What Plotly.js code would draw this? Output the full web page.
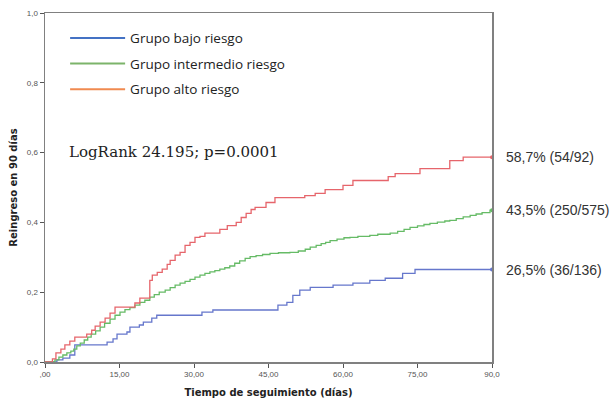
<!DOCTYPE html>
<html>
<head>
<meta charset="utf-8">
<script src="https://cdn.plot.ly/plotly-3.0.1.min.js"></script>
<style>html,body{margin:0;padding:0;background:#fff;}#chart{width:613px;height:400px;}</style>
</head>
<body>
<div id="chart"></div>
<script>
// Grupo bajo riesgo
const bajoDias = [0, 2.4, 3.6, 5.0, 6.0, 12.5, 13.7, 14.5, 16.5, 17.1, 19.0, 19.8, 21.5, 22.5, 31.6, 33.8, 46.9, 48.7, 49.9, 51.3, 53.4, 58.0, 62.0, 65.4, 68.5, 72.0, 74.5, 90];
const bajoValores = [0, 0.006, 0.011, 0.020, 0.049, 0.057, 0.066, 0.080, 0.086, 0.100, 0.106, 0.114, 0.126, 0.134, 0.143, 0.149, 0.163, 0.171, 0.191, 0.206, 0.214, 0.220, 0.226, 0.234, 0.240, 0.254, 0.265, 0.265];
// Grupo intermedio riesgo
const interDias = [0, 2.0, 2.8, 3.6, 4.4, 5.2, 5.8, 6.4, 7.1, 7.9, 8.6, 9.3, 10.2, 11.1, 12.0, 13.1, 14.1, 15.1, 16.1, 17.1, 18.1, 19.1, 20.1, 21.1, 22.0, 23.0, 24.2, 25.2, 26.2, 27.2, 28.2, 29.2, 30.2, 31.2, 32.2, 33.2, 34.2, 35.2, 36.2, 37.2, 38.2, 39.2, 40.3, 41.3, 42.5, 43.8, 45.3, 47.0, 49.3, 51.0, 52.4, 53.4, 54.6, 55.6, 56.5, 57.4, 58.8, 60.2, 61.4, 63.0, 65.4, 67.0, 69.5, 71.0, 72.3, 73.5, 75.0, 76.3, 77.5, 79.0, 80.5, 81.5, 82.8, 84.2, 85.6, 86.8, 88.0, 89.6, 90];
const interValores = [0, 0.006, 0.014, 0.020, 0.026, 0.031, 0.037, 0.046, 0.054, 0.063, 0.071, 0.080, 0.089, 0.100, 0.111, 0.123, 0.134, 0.143, 0.150, 0.156, 0.163, 0.171, 0.177, 0.186, 0.193, 0.200, 0.206, 0.213, 0.220, 0.226, 0.231, 0.237, 0.243, 0.249, 0.254, 0.258, 0.262, 0.266, 0.270, 0.275, 0.283, 0.290, 0.297, 0.302, 0.305, 0.308, 0.311, 0.313, 0.314, 0.318, 0.323, 0.329, 0.334, 0.339, 0.343, 0.348, 0.352, 0.356, 0.357, 0.360, 0.363, 0.366, 0.369, 0.374, 0.380, 0.386, 0.390, 0.394, 0.397, 0.401, 0.404, 0.406, 0.411, 0.416, 0.420, 0.424, 0.428, 0.435, 0.435];
// Grupo alto riesgo
const altoDias = [0, 1.5, 2.2, 3.2, 4.0, 5.0, 6.0, 8.4, 9.4, 10.1, 11.1, 12.1, 13.1, 14.1, 18.1, 19.1, 21.1, 21.6, 22.6, 23.6, 24.6, 25.2, 26.2, 27.2, 28.2, 29.2, 30.2, 31.2, 32.2, 35.2, 36.7, 38.5, 39.5, 40.5, 41.5, 42.3, 44.5, 46.3, 52.3, 54.4, 56.4, 60.0, 62.0, 69.1, 70.5, 75.5, 81.5, 84.2, 90];
const altoValores = [0, 0.009, 0.026, 0.037, 0.049, 0.060, 0.071, 0.080, 0.091, 0.103, 0.114, 0.126, 0.140, 0.157, 0.169, 0.183, 0.234, 0.249, 0.257, 0.266, 0.280, 0.291, 0.306, 0.314, 0.334, 0.343, 0.357, 0.360, 0.369, 0.380, 0.391, 0.400, 0.414, 0.426, 0.437, 0.443, 0.457, 0.471, 0.477, 0.483, 0.494, 0.506, 0.520, 0.531, 0.540, 0.554, 0.577, 0.587, 0.587];

const grupos = ["Grupo bajo riesgo", "Grupo intermedio riesgo", "Grupo alto riesgo"];
const etiquetasFinales = ["26,5% (36/136)", "43,5% (250/575)", "58,7% (54/92)"];
const xTicks = [0, 15, 30, 45, 60, 75, 90];
const xTickText = [",00", "15,00", "30,00", "45,00", "60,00", "75,00", "90,0"];
const yTicks = [0, 0.2, 0.4, 0.6, 0.8, 1.0];
const yTickText = ["0,0", "0,2", "0,4", "0,6", "0,8", "1,0"];
const logRankTexto = "LogRank 24.195; p=0.0001";

const curveColors = ["#6677cc", "#66bb66", "#e6656b"];
const legendColors = ["#4472c4", "#7cb46a", "#f08a50"];
const series = [[bajoDias, bajoValores], [interDias, interValores], [altoDias, altoValores]];

const traces = [];
series.forEach((s, i) => {
  traces.push({
    x: s[0], y: s[1], type: "scatter", mode: "lines",
    line: {shape: "hv", color: curveColors[i], width: 1.3},
    showlegend: false, hoverinfo: "skip"
  });
  traces.push({
    x: [s[0][s[0].length - 1]], y: [s[1][s[1].length - 1]], type: "scatter", mode: "markers",
    marker: {color: curveColors[i], size: 4}, showlegend: false, hoverinfo: "skip", cliponaxis: false
  });
});
grupos.forEach((g, i) => {
  traces.push({
    x: [null], y: [null], type: "scatter", mode: "lines", name: g,
    line: {color: legendColors[i], width: 2}, legendgroup: "g" + i, showlegend: true
  });
});

const annotations = [{
  text: logRankTexto, xref: "paper", yref: "paper", x: 0.05, y: (362 - 151) / 350,
  xanchor: "left", yanchor: "middle", showarrow: false,
  font: {family: "DejaVu Serif", size: 15, color: "#222"}
}];
series.forEach((s, i) => {
  annotations.push({
    text: etiquetasFinales[i], xref: "paper", yref: "y", x: 1.027, y: s[1][s[1].length - 1],
    xanchor: "left", yanchor: "middle", showarrow: false,
    font: {family: "Liberation Sans", size: 14, color: "#333"}
  });
});

const layout = {
  width: 613, height: 400,
  margin: {l: 45, r: 121, t: 13, b: 38},
  paper_bgcolor: "#fff", plot_bgcolor: "#fff",
  showlegend: true,
  legend: {
    x: 0.045, y: 0.972, xanchor: "left", yanchor: "top",
    bgcolor: "rgba(0,0,0,0)", tracegroupgap: 5, itemwidth: 55,
    font: {family: "Open Sans", size: 13.5, color: "#222"}
  },
  xaxis: {
    range: [0, 90], tickvals: xTicks, ticktext: xTickText,
    showgrid: false, zeroline: false, showline: true, mirror: true,
    linecolor: "#808080", linewidth: 1.5, ticks: "outside", ticklen: 4, tickcolor: "#555",
    tickfont: {family: "Liberation Sans", size: 8, color: "#555"},
    title: {text: "<b>Tiempo de seguimiento (días)</b>", font: {family: "DejaVu Sans", size: 10, color: "#222"}, standoff: 11}
  },
  yaxis: {
    range: [0, 1], tickvals: yTicks, ticktext: yTickText,
    showgrid: false, zeroline: false, showline: true, mirror: true,
    linecolor: "#808080", linewidth: 1.5, ticks: "outside", ticklen: 4, tickcolor: "#555",
    tickfont: {family: "Liberation Sans", size: 8, color: "#555"},
    title: {text: "<b>Reingreso en 90 días</b>", font: {family: "DejaVu Sans", size: 10, color: "#222"}, standoff: 7}
  },
  annotations: annotations
};

Plotly.newPlot("chart", traces, layout, {displayModeBar: false, staticPlot: true});
</script>
</body>
</html>
